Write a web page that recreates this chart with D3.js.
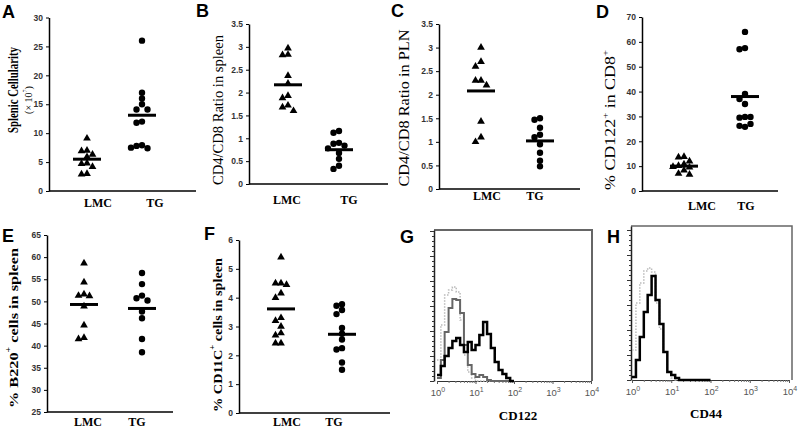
<!DOCTYPE html>
<html>
<head>
<meta charset="utf-8">
<script src="https://cdn.jsdelivr.net/npm/d3@7"></script>
<style>
  body { margin: 0; background: #fff; }
  svg { display: block; }
</style>
</head>
<body>
<svg id="fig" width="800" height="430"></svg>
<script>
const groups = ["LMC", "TG"];

// A - splenic cellularity (x 10^7)
const cellLMC = [9.1, 7.0, 6.9, 6.3, 5.9, 4.8, 4.7, 4.2, 3.0, 2.9];
const cellTG = [26.0, 17.0, 16.0, 15.0, 14.1, 14.1, 12.0, 11.8, 7.9, 7.8, 7.4, 7.5];
const cellMean = [5.5, 13.1];
const cellTicks = [0, 5, 10, 15, 20, 25, 30];

// B - CD4/CD8 ratio in spleen
const spleenLMC = [2.97, 2.83, 2.82, 2.37, 2.2, 1.93, 1.88, 1.72, 1.68, 1.6];
const spleenTG = [1.16, 1.12, 0.9, 0.88, 0.84, 0.78, 0.68, 0.55, 0.4, 0.33];
const spleenMean = [2.17, 0.75];
const ratioTicks = [0, 0.5, 1, 1.5, 2, 2.5, 3, 3.5];

// C - CD4/CD8 ratio in PLN
const plnLMC = [3.0, 2.7, 2.6, 2.3, 2.3, 2.2, 1.43, 1.1, 1.0];
const plnTG = [1.5, 1.47, 1.3, 1.15, 1.1, 0.95, 0.77, 0.6, 0.48];
const plnMean = [2.08, 1.02];

// D - % CD122+ in CD8+
const cd122LMC = [13.8, 13.6, 12.0, 10.8, 10.2, 9.8, 9.5, 8.3, 7.0, 6.6];
const cd122TG = [64, 57.5, 57, 39, 37, 35, 29.8, 29.5, 29.8, 25.8, 26.2, 27];
const cd122Mean = [10, 38];
const cd122Ticks = [0, 10, 20, 30, 40, 50, 60, 70];

// E - % B220+ cells in spleen
const b220LMC = [58.6, 54.3, 51.6, 51.3, 51.2, 48.9, 44.6, 41.8, 41.5];
const b220TG = [56.4, 53.9, 51.3, 50.7, 50.2, 47.7, 46.2, 41.5, 38.5];
const b220Mean = [49.3, 48.4];
const b220Ticks = [25, 30, 35, 40, 45, 50, 55, 60, 65];

// F - % CD11C+ cells in spleen
const cd11cLMC = [5.4, 4.5, 4.5, 4.45, 4.15, 4.0, 3.3, 3.2, 3.0, 2.77, 2.7, 2.42, 2.42];
const cd11cTG = [3.77, 3.72, 3.57, 3.43, 2.95, 2.75, 2.55, 2.25, 2.2, 1.75, 1.5];
const cd11cMean = [3.61, 2.73];
const cd11cTicks = [0, 1, 2, 3, 4, 5, 6];

// G / H - flow histograms, channel bins (fluorescence)
const channels = [1, 1.26, 1.58, 2, 2.51, 3.16, 3.98, 5.01, 6.31, 7.94, 10, 12.6, 15.8, 20, 25.1, 31.6, 39.8, 50.1, 63.1, 79.4, 100];
const gTG  = [6, 15, 25, 33, 40, 43, 36, 29, 39, 31, 36, 46, 59, 47, 33, 19, 11, 7, 3, 0, 0];
const gLMC = [3, 21, 49, 73, 82, 81, 68, 36, 16, 7, 4, 6, 4, 1, 0, 0, 0, 0, 0, 0, 0];
const gIso = [21, 56, 86, 91, 94, 89, 61, 26, 9, 3, 0, 0, 0, 0, 0, 0, 0, 0, 0, 0, 0];
const hTG  = [3, 20, 43, 68, 85, 104, 80, 56, 28, 8, 5, 2, 0, 0, 0, 0, 0, 0, 0, 0, 0];
const hIso = [30, 77, 97, 109, 112, 108, 77, 51, 28, 8, 2, 0, 0, 0, 0, 0, 0, 0, 0, 0, 0];
const decades = [1, 10, 100, 1000, 10000];
const decadeExp = ["0", "1", "2", "3", "4"];

const SERIF = "'Liberation Serif', 'Times New Roman', serif";
const SANS = "'Liberation Sans', Arial, sans-serif";

const svg = d3.select("#fig");

function letter(t, x, y) {
  svg.append("text").attr("x", x).attr("y", y).text(t)
    .style("font-family", SANS).style("font-weight", "bold").style("font-size", "18px");
}

// spread overlapping points sideways
function dodge(vals, y, cx) {
  const placed = [];
  const offs = [0, -1, 1, -2, 2, -3, 3];
  vals.forEach(v => {
    const py = y(v);
    for (const o of offs) {
      const px = cx + o * 5.5;
      if (placed.every(q => Math.hypot(q.x - px, q.y - py) >= 5.5)) {
        placed.push({ x: px, y: py });
        break;
      }
    }
  });
  return placed;
}

function scatterPanel(p) {
  const g = svg.append("g");
  const y = d3.scaleLinear().domain(p.domain).range([p.bottom, p.top]);
  const x = d3.scaleOrdinal().domain(groups).range(p.cx);
  const lx = d3.scaleOrdinal().domain(groups).range(p.lx);

  const ax = g.append("g")
    .attr("transform", `translate(${p.left},0)`)
    .call(d3.axisLeft(y).tickValues(p.ticks).tickSize(3).tickSizeOuter(0).tickPadding(3).tickFormat(d3.format("~g")));
  ax.select(".domain").attr("stroke", "#000").attr("stroke-width", 1.5);
  ax.selectAll(".tick line").attr("stroke", "#000").attr("stroke-width", 1);
  ax.selectAll(".tick text")
    .style("font-family", SANS).style("font-weight", "bold").style("font-size", "8.5px").attr("fill", "#333");

  g.append("line")
    .attr("x1", p.left).attr("x2", p.right)
    .attr("y1", p.bottom).attr("y2", p.bottom)
    .attr("stroke", "#000").attr("stroke-width", 1.5);

  groups.forEach((grp, i) => {
    const pts = dodge(p.values[i], y, x(grp));
    const sym = i === 0 ? d3.symbol(d3.symbolTriangle, 26) : d3.symbol(d3.symbolCircle, 32);
    g.selectAll(null).data(pts).enter().append("path")
      .attr("d", sym)
      .attr("transform", d => `translate(${d.x},${d.y})`)
      .attr("fill", "#000");
    g.append("line")
      .attr("x1", x(grp) - 14).attr("x2", x(grp) + 14)
      .attr("y1", y(p.means[i])).attr("y2", y(p.means[i]))
      .attr("stroke", "#000").attr("stroke-width", 3);
    g.append("text")
      .attr("x", lx(grp)).attr("y", p.ly)
      .attr("text-anchor", "middle")
      .text(grp)
      .style("font-family", SERIF).style("font-weight", "bold").style("font-size", "12px");
  });

  p.titles.forEach(t => {
    const tx = g.append("text")
      .attr("transform", `translate(${t.x},${t.y}) rotate(-90)`)
      .attr("text-anchor", "middle")
      .attr("dominant-baseline", "central")
      .style("font-family", SERIF)
      .style("font-weight", t.bold ? "bold" : "normal")
      .style("font-size", t.size + "px");
    t.parts.forEach(part => {
      const s = tx.append("tspan").text(part[0]);
      if (part[1]) s.attr("baseline-shift", "super").style("font-size", (t.size * 0.6) + "px");
    });
    if (t.len) tx.attr("textLength", t.len).attr("lengthAdjust", "spacingAndGlyphs");
  });
}

function histPanel(p) {
  const g = svg.append("g");
  const x = d3.scaleLog().domain([1, 10000]).range([p.x0, p.x1]);
  const y = d3.scaleLinear().domain([0, p.bottom - p.top]).range([p.bottom, p.top]);

  // frame top and right
  g.append("path")
    .attr("d", `M${p.left},${p.top}H${p.right}V${p.bottom}`)
    .attr("fill", "none").attr("stroke", "#666").attr("stroke-width", p.frameW);

  const major = d3.range(0, p.bottom - p.top + 1, 25);
  const minor = d3.range(0, p.bottom - p.top + 1, 5);
  const ya = g.append("g").attr("transform", `translate(${p.left},0)`)
    .call(d3.axisLeft(y).tickValues(minor).tickSize(2).tickSizeOuter(0).tickFormat(""));
  ya.select(".domain").attr("stroke", "#222").attr("stroke-width", 1.5);
  ya.selectAll(".tick line").attr("stroke", "#333");
  g.append("g").attr("transform", `translate(${p.left},0)`)
    .call(d3.axisLeft(y).tickValues(major).tickSize(4).tickFormat(""))
    .call(a => a.select(".domain").remove())
    .selectAll(".tick line").attr("stroke", "#333");

  const logMinor = [];
  decades.slice(0, 4).forEach(d => [2, 3, 4, 5, 6, 7, 8, 9].forEach(m => logMinor.push(d * m)));
  const xa = g.append("g").attr("transform", `translate(0,${p.bottom})`)
    .call(d3.axisBottom(x).tickValues(logMinor).tickSize(2).tickSizeOuter(0).tickFormat(""));
  xa.select(".domain").attr("stroke", "#333").attr("stroke-width", 1);
  xa.selectAll(".tick line").attr("stroke", "#777");
  g.append("g").attr("transform", `translate(0,${p.bottom})`)
    .call(d3.axisBottom(x).tickValues(decades).tickSize(3).tickFormat(""))
    .call(a => a.select(".domain").remove())
    .selectAll(".tick line").attr("stroke", "#555");

  decades.forEach((d, i) => {
    const t = g.append("text")
      .attr("x", x(d) + 1).attr("y", p.bottom + 15)
      .attr("text-anchor", "middle")
      .style("font-family", SANS).style("font-size", "9.5px").attr("fill", "#555");
    t.append("tspan").text("10");
    t.append("tspan").text(decadeExp[i]).attr("dy", -4).style("font-size", "7px");
  });

  const line = d3.line()
    .x((d, i) => x(channels[i]))
    .y(d => y(d))
    .curve(d3.curveStepAfter);

  p.curves.forEach(c => {
    g.append("path")
      .datum(c.values)
      .attr("d", line)
      .attr("fill", "none")
      .attr("stroke", c.color)
      .attr("stroke-width", c.width)
      .attr("stroke-dasharray", c.dash || null);
  });

  g.append("text")
    .attr("x", p.labelX).attr("y", p.labelY)
    .attr("text-anchor", "middle")
    .text(p.label)
    .style("font-family", SERIF).style("font-weight", "bold").style("font-size", "13px");
}

scatterPanel({
  left: 49, right: 196, top: 17.5, bottom: 191,
  domain: [0, 30], ticks: cellTicks,
  cx: [87, 142], lx: [98, 155], ly: 207,
  values: [cellLMC, cellTG], means: cellMean,
  titles: [
    { x: 13, y: 90, size: 15, bold: true, len: 86, parts: [["Splenic Cellularity"]] },
    { x: 28, y: 100, size: 10, bold: false, parts: [["(× 10"], ["7", true], [")"]] }
  ]
});

scatterPanel({
  left: 249, right: 388, top: 24, bottom: 184,
  domain: [0, 3.5], ticks: ratioTicks,
  cx: [288, 339], lx: [287, 349], ly: 204,
  values: [spleenLMC, spleenTG], means: spleenMean,
  titles: [{ x: 218, y: 110, size: 14.5, bold: false, len: 150, parts: [["CD4/CD8 Ratio in spleen"]] }]
});

scatterPanel({
  left: 439, right: 580, top: 24, bottom: 189,
  domain: [0, 3.5], ticks: ratioTicks,
  cx: [481, 540], lx: [487, 535], ly: 200,
  values: [plnLMC, plnTG], means: plnMean,
  titles: [{ x: 404, y: 108, size: 15, bold: false, len: 157, parts: [["CD4/CD8 Ratio in PLN"]] }]
});

scatterPanel({
  left: 642, right: 778, top: 17, bottom: 191,
  domain: [0, 70], ticks: cd122Ticks,
  cx: [684, 745], lx: [702, 746], ly: 210,
  values: [cd122LMC, cd122TG], means: cd122Mean,
  titles: [{ x: 610, y: 120, size: 15, bold: false, len: 140, parts: [["% CD122"], ["+", true], [" in CD8"], ["+", true]] }]
});

scatterPanel({
  left: 47, right: 173, top: 235, bottom: 412,
  domain: [25, 65], ticks: b220Ticks,
  cx: [84, 142], lx: [88, 137], ly: 426,
  values: [b220LMC, b220TG], means: b220Mean,
  titles: [{ x: 13, y: 328, size: 13, bold: true, len: 160, parts: [["% B220"], ["+", true], [" cells in spleen"]] }]
});

scatterPanel({
  left: 239, right: 390, top: 240, bottom: 413,
  domain: [0, 6], ticks: cd11cTicks,
  cx: [281, 342], lx: [287, 334], ly: 426,
  values: [cd11cLMC, cd11cTG], means: cd11cMean,
  titles: [{ x: 217, y: 335, size: 13, bold: true, len: 154, parts: [["% CD11C"], ["+", true], [" cells in spleen"]] }]
});

histPanel({
  left: 434, right: 592, top: 230, bottom: 381, x0: 437, x1: 591, frameW: 2,
  label: "CD122", labelX: 518, labelY: 420,
  curves: [
    { values: gIso, color: "#bbb", width: 1.5, dash: "1.5,1.5" },
    { values: gLMC, color: "#666", width: 2 },
    { values: gTG, color: "#000", width: 2.5 }
  ]
});

histPanel({
  left: 631, right: 792, top: 226, bottom: 380, x0: 632, x1: 789, frameW: 1.5,
  label: "CD44", labelX: 706, labelY: 418,
  curves: [
    { values: hIso, color: "#bbb", width: 1.5, dash: "1.5,1.5" },
    { values: hTG, color: "#000", width: 2.5 }
  ]
});

letter("A", 2, 18);
letter("B", 196, 17);
letter("C", 391, 17);
letter("D", 596, 18);
letter("E", 2, 242);
letter("F", 204, 240);
letter("G", 400, 243);
letter("H", 607, 243);
</script>
</body>
</html>
